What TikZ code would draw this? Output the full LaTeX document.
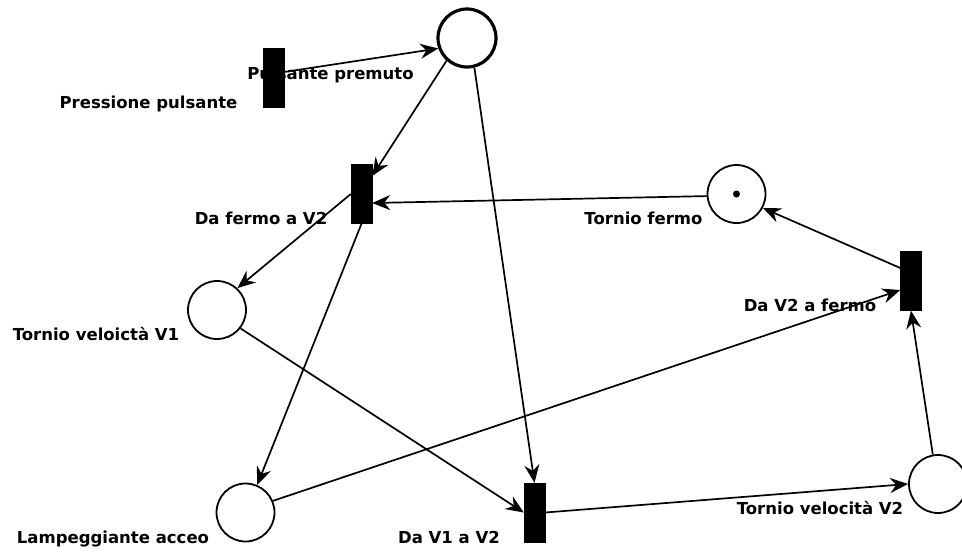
\documentclass[tikz,border=0pt]{standalone}
\usepackage{fontspec}
\setmainfont{DejaVu Sans}
\usetikzlibrary{arrows.meta}
\begin{document}
\begin{tikzpicture}[x=1pt,y=-1pt,
  place/.style={circle,draw,line width=1.8pt,fill=white,minimum size=58pt,inner sep=0pt},
  trans/.style={rectangle,draw=black,fill=black,minimum width=21pt,minimum height=59pt,inner sep=0pt},
  lbl/.style={font=\fontsize{16.5}{18}\selectfont\bfseries,inner sep=0pt,anchor=base},
  arc/.style={line width=1.7pt,-{Stealth[length=18pt,width=15pt,inset=6pt]}}]
\useasboundingbox[fill=white] (0,0) rectangle (962,552);
% labels
\node[lbl] (l0) at (330.5,79) {Pulsante premuto};
\node[lbl] (l1) at (148.5,108) {Pressione pulsante};
\node[lbl] (l2) at (261,224) {Da fermo a V2};
\node[lbl] (l3) at (643.5,224) {Tornio fermo};
\node[lbl] (l4) at (810,311) {Da V2 a fermo};
\node[lbl] (l5) at (96,340) {Tornio veloictà V1};
\node[lbl] (l6) at (113,543) {Lampeggiante acceo};
\node[lbl] (l7) at (449,543) {Da V1 a V2};
\node[lbl] (l8) at (820,514) {Tornio velocità V2};
% places
\node[place,line width=3.2pt] (p0) at (467,38) {};
\node[place] (pf) at (736.5,194) {};
\fill (pf.center) circle (3.5pt);
\node[place] (pv1) at (217,310) {};
\node[place] (pl) at (245.5,512.5) {};
\node[place] (pv2) at (938,484) {};
% transitions
\node[trans] (t0) at (273.5,78) {};
\node[trans] (t1) at (361.5,194) {};
\node[trans] (t3) at (911,281) {};
\node[trans] (t2) at (534.5,512.5) {};
% arcs
\draw[arc] ([yshift=6pt]t0.east) -- (p0.200);
\draw[arc] (p0.228) -- ([yshift=18pt]t1.east);
\draw[arc] (p0.284) -- (t2.north);
\draw[arc] (pf.184) -- ([yshift=-9pt]t1.east);
\draw[arc] (t1.west) -- (pv1.47);
\draw[arc] (t1.south) -- (pl.67);
\draw[arc] (pv1.322) -- (t2.west);
\draw[arc] (pl.23) -- ([yshift=-9pt]t3.west);
\draw[arc] (t2.east) -- (pv2.west);
\draw[arc] (pv2.100) -- (t3.south);
\draw[arc] ([yshift=13pt]t3.west) -- (pf.332);
\end{tikzpicture}
\end{document}
